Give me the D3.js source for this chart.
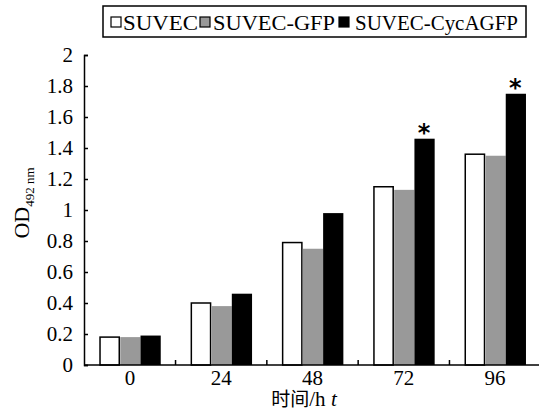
<!DOCTYPE html>
<html><head><meta charset="utf-8">
<script src="https://cdn.jsdelivr.net/npm/d3@7/dist/d3.min.js"></script>
<style>body{margin:0;background:#fff}svg{display:block}text{font-family:"Liberation Serif","Times New Roman",serif}</style>
</head><body>
<svg id="c" width="539" height="416"></svg>
<script>
const categories = ["0", "24", "48", "72", "96"];
const seriesNames = ["SUVEC", "SUVEC-GFP", "SUVEC-CycAGFP"];
const suvec = [0.18, 0.40, 0.79, 1.15, 1.36];
const suvecGFP = [0.18, 0.38, 0.75, 1.13, 1.35];
const suvecCycA = [0.19, 0.46, 0.98, 1.46, 1.75];
const significant = ["", "", "", "*", "*"];
const yTicks = [0, 0.2, 0.4, 0.6, 0.8, 1, 1.2, 1.4, 1.6, 1.8, 2];
const colors = ["#ffffff", "#999999", "#000000"];

(function () {
const svg = d3.select("#c");
const mLeft = 84, mRight = 541, mTop = 55, mBottom = 365;
const x = d3.scaleBand().domain(categories).range([mLeft, mRight]).paddingInner(0.335).paddingOuter(0.17);
const xs = d3.scaleBand().domain(seriesNames).range([0, x.bandwidth()]);
const y = d3.scaleLinear().domain([0, 2]).range([mBottom, mTop]);

const data = [suvec, suvecGFP, suvecCycA];

// bars
categories.forEach((c, i) => {
  const g = svg.append("g").attr("transform", `translate(${x(c)},0)`);
  seriesNames.forEach((s, j) => {
    g.append("rect")
      .attr("x", xs(s) + 0.5).attr("y", y(data[j][i]))
      .attr("width", xs.bandwidth() - (j === 0 ? 1 : 0)).attr("height", y(0) - y(data[j][i]))
      .attr("fill", colors[j])
      .attr("stroke", j === 0 ? "#000" : "none").attr("stroke-width", 1.5);
  });
  if (significant[i]) {
    g.append("text").attr("x", xs(seriesNames[2]) + xs.bandwidth() / 2)
      .attr("y", y(suvecCycA[i]) + 2).attr("text-anchor", "middle")
      .style("font-family", "'DejaVu Sans',sans-serif").style("font-weight", "bold")
      .style("font-size", "24px").text(significant[i]);
  }
});

// y axis
const yAxis = svg.append("g").attr("transform", `translate(${mLeft},0)`)
  .call(d3.axisLeft(y).tickValues(yTicks).tickSizeInner(-4).tickSizeOuter(-4).tickPadding(11).tickFormat(d => d3.format("~g")(d)));
yAxis.selectAll("text").style("font-size", "21px").attr("fill", "#000");
yAxis.selectAll("line,path").attr("stroke", "#000").attr("stroke-width", 1.5);

// x axis with ticks between groups
const xAxis = svg.append("g").attr("transform", `translate(0,${mBottom})`);
xAxis.append("line").attr("x1", mLeft).attr("x2", mRight).attr("stroke", "#000").attr("stroke-width", 1.5);
const step = x.step();
categories.slice(1).forEach(c => {
  const xb = x(c) - (step - x.bandwidth()) / 2;
  xAxis.append("line").attr("x1", xb).attr("x2", xb).attr("y1", 0).attr("y2", -5).attr("stroke", "#000").attr("stroke-width", 1.5);
});
categories.forEach(c => {
  xAxis.append("text").attr("x", x(c) + x.bandwidth() / 2).attr("y", 20)
    .attr("text-anchor", "middle").style("font-size", "21px").text(c);
});

// x label
const xl = svg.append("text").attr("x", 304).attr("y", 406).attr("text-anchor", "middle").style("font-size", "21px");
xl.append("tspan").style("font-family", "'Noto Sans CJK SC',sans-serif").style("font-size", "19px").text("时间");
xl.append("tspan").text("/h ");
xl.append("tspan").style("font-style", "italic").text(" t");

// y label
const yl = svg.append("text").attr("transform", "translate(29,203) rotate(-90)").attr("text-anchor", "middle").style("font-size", "22px");
yl.append("tspan").text("OD");
yl.append("tspan").attr("dy", 5).style("font-size", "13px").text("492 nm");

// legend
const lg = svg.append("g");
lg.append("rect").attr("x", 103).attr("y", 6).attr("width", 423).attr("height", 31).attr("fill", "#fff").attr("stroke", "#000").attr("stroke-width", 1.5);
const legX = [111, 200, 339];
const textX = [123, 213, 355];
const textW = [75, 122, 163];
seriesNames.forEach((s, j) => {
  lg.append("rect").attr("x", legX[j]).attr("y", 17).attr("width", 10).attr("height", 10)
    .attr("fill", colors[j]).attr("stroke", "#000").attr("stroke-width", 1.2);
  lg.append("text").attr("x", textX[j]).attr("y", 30).style("font-size", "22px")
    .attr("textLength", textW[j]).attr("lengthAdjust", "spacingAndGlyphs").text(s);
});
})();
</script>
</body></html>
